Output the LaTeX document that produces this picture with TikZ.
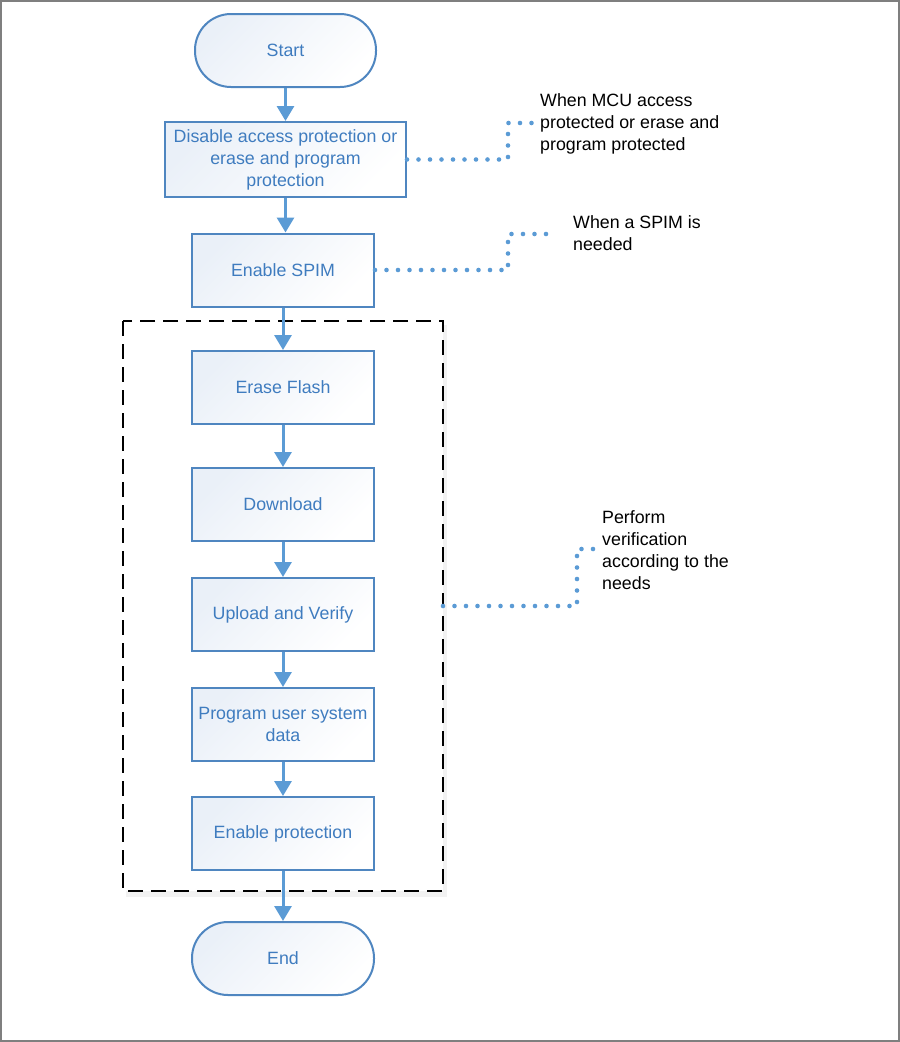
\documentclass[tikz,border=0pt]{standalone}
\usepackage{fontspec}
\setmainfont{Liberation Sans}
\usetikzlibrary{arrows.meta,calc}
\definecolor{boxline}{HTML}{4F86C0}
\definecolor{boxtext}{HTML}{3F7CBF}
\definecolor{arrowblue}{HTML}{5B9BD5}
\definecolor{boxfill}{HTML}{EAF0F8}
\definecolor{framegray}{HTML}{7F7F7F}
\tikzset{
  stepbox/.style={draw=boxline, line width=2pt, top color=boxfill, bottom color=white, shading angle=45,
    minimum width=182pt, minimum height=73pt, align=center, text=boxtext,
    font=\fontsize{17.8}{22}\selectfont, inner sep=2pt},
  termbox/.style={stepbox, rounded corners=36pt},
  flow/.style={draw=arrowblue, line width=3pt, -{Triangle[length=15pt,width=17pt]}},
  note/.style={draw=arrowblue, line width=4.6pt, line cap=round, dash pattern=on 0pt off 11.5pt},
  notetext/.style={anchor=west, align=left, font=\fontsize{17.8}{22}\selectfont, text=black, inner sep=0pt},
}
\begin{document}
\begin{tikzpicture}[x=1pt,y=-1pt]
\useasboundingbox (0,0) rectangle (900,1042);
\draw[framegray, line width=2pt] (1,1) rectangle (899,1041);

% dashed group with faint shadow
\fill[black!5] (126,325) rectangle (447,897);
\fill[white] (123,321) rectangle (443,891);
\draw[black, line width=2pt, dash pattern=on 15pt off 8pt] (123,321) rectangle (443,891);
\coordinate (grp) at (443,606);

\node[termbox, minimum width=181pt] (start) at (285.5,50.5) {Start};
\node[stepbox, minimum width=241pt, minimum height=75pt] (disable) at (285.5,159.5) {Disable access protection or\\erase and program\\protection};
\node[stepbox] (spim) at (283,270) {Enable SPIM};
\node[stepbox] (erase) at (283,387.5) {Erase Flash};
\node[stepbox] (down) at (283,504.5) {Download};
\node[stepbox] (upload) at (283,614.5) {Upload and Verify};
\node[stepbox] (prog) at (283,724.5) {Program user system\\data};
\node[stepbox] (prot) at (283,833.5) {Enable protection};
\node[termbox] (end) at (283,958.5) {End};

\draw[flow] (start.south) -- (disable.north);
\draw[flow] (disable.south) -- (disable.south |- spim.north);
\draw[flow] (spim.south) -- (spim.south |- erase.north);
\draw[flow] (erase) -- (down);
\draw[flow] (down) -- (upload);
\draw[flow] (upload) -- (prog);
\draw[flow] (prog) -- (prot);
\draw[flow] (prot) -- (end);

% notes
\node[notetext] (n1) at (540,124) {When MCU access\\protected or erase and\\program protected};
\node[notetext] (n2) at (573,233) {When a SPIM is\\needed};
\node[notetext] (n3) at (602,550) {Perform\\verification\\according to the\\needs};
\coordinate (e1) at (532,123);
\coordinate (e2) at (557,234);
\coordinate (e3) at (593,549);
\draw[note] (disable.east) -- (508,159.5) -- (508,123) -- (e1);
\draw[note] (spim.east) -- (508,270) -- (508,234) -- (e2);
\draw[note] (grp) -- (577,606) -- (577,549) -- (e3);
\end{tikzpicture}
\end{document}
